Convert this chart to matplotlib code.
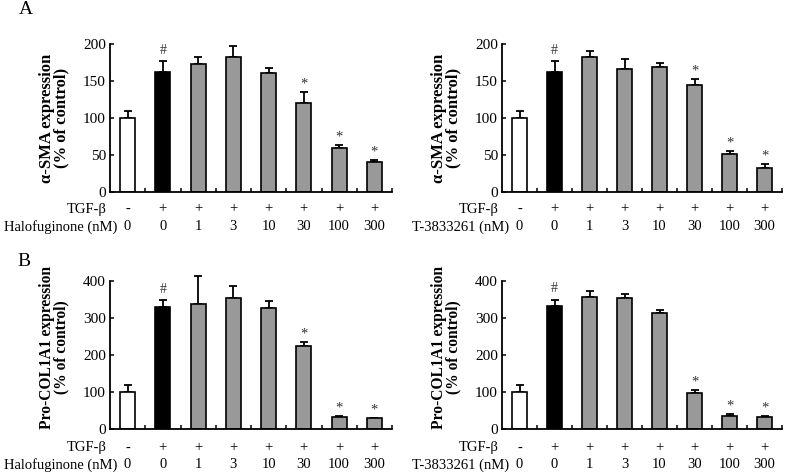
import matplotlib
matplotlib.use("Agg")
import matplotlib.pyplot as plt
import numpy as np

plt.rcParams['font.family'] = ['Liberation Serif', 'DejaVu Serif']

# ---- data ----
tgf_row = ['-', '+', '+', '+', '+', '+', '+', '+']
conc_labels = ['0', '0', '1', '3', '10', '30', '100', '300']

sma_halo = [100, 162, 173, 183, 161, 120, 59, 40.5]
sma_halo_err = [9, 15, 10, 14, 6, 15, 4, 2.5]
sma_t38 = [100, 162, 183, 166, 169, 145, 51, 32]
sma_t38_err = [9, 15, 7, 14, 5, 7.5, 5, 6]

col_halo = [100, 331, 337, 355, 327, 224, 33, 29]
col_halo_err = [18, 18, 76, 31, 19, 12, 2, 1.5]
col_t38 = [100, 332, 357, 353, 314, 98, 36, 31.5]
col_t38_err = [20, 18, 15, 11, 7, 7, 3.5, 2.5]

sig_marks = ['', '#', '', '', '', '*', '*', '*']

bar_colors = ['white', 'black'] + ['#999999'] * 6

W, H = 785, 474
fig = plt.figure(figsize=(W / 100, H / 100), dpi=100)


def make_ax(left_px, right_px, top_px, bottom_px):
    return fig.add_axes([left_px / W, 1 - bottom_px / H,
                         (right_px - left_px) / W, (bottom_px - top_px) / H])


def panel(ax, vals, errs, ylim, yticks, ylabel, drug, ylab_y, row_y, ylab_fs):
    x = np.arange(len(vals))
    ax.bar(x, vals, width=0.42, color=bar_colors, edgecolor='black',
           linewidth=1.2, zorder=2)
    eb = ax.errorbar(x, vals, yerr=[np.zeros(len(errs)), errs], fmt='none',
                     ecolor='black', elinewidth=1.3, capsize=2.6,
                     capthick=1.3, zorder=1)
    for art in eb.lines[1] + eb.lines[2]:
        art.set_clip_on(False)
    for xi, v, e, m in zip(x, vals, errs, sig_marks):
        if m:
            ax.annotate(m, (xi, v + e), xytext=(0, 3 if m == '#' else 1),
                        textcoords='offset points', ha='center', va='bottom',
                        fontsize=10 if m == '#' else 10.5, color='#333333')
    ax.set_xlim(-0.5, len(vals) - 0.5)
    ax.set_ylim(*ylim)
    ax.set_yticks(yticks)
    ax.set_xticks(np.arange(len(vals)) + 0.5)
    ax.set_xticklabels([])
    ax.tick_params(axis='both', direction='in', length=3, width=1.1,
                   labelsize=11, pad=3)
    for s in ['top', 'right']:
        ax.spines[s].set_visible(False)
    for s in ['left', 'bottom']:
        ax.spines[s].set_linewidth(1.3)
    ax.set_ylabel(ylabel, fontsize=ylab_fs, fontweight='bold',
                  linespacing=0.85)
    ax.yaxis.set_label_coords(-0.145, ylab_y)
    tr = ax.get_xaxis_transform()
    for xi, t, c in zip(x, tgf_row, conc_labels):
        ax.text(xi, row_y[0], t, transform=tr, ha='center', va='center',
                fontsize=10.5)
        ax.text(xi, row_y[1], c, transform=tr, ha='center', va='center',
                fontsize=10.5)
    ax.text(-0.6, row_y[0], 'TGF-β', transform=tr, ha='right',
            va='center', fontsize=10.5)
    ax.text(-0.3, row_y[1], drug, transform=tr, ha='right',
            va='center', fontsize=10.5)


ax1 = make_ax(110, 392, 44, 192)
ax2 = make_ax(502, 782, 44, 192)
ax3 = make_ax(110, 392, 281, 429)
ax4 = make_ax(502, 782, 281, 429)

panel(ax1, sma_halo, sma_halo_err, (0, 200), range(0, 201, 50),
      'α-SMA expression\n(% of control)', 'Halofuginone (nM)', 0.5,
      (-0.115, -0.236), 12)
panel(ax2, sma_t38, sma_t38_err, (0, 200), range(0, 201, 50),
      'α-SMA expression\n(% of control)', 'T-3833261 (nM)', 0.5,
      (-0.115, -0.236), 12)
panel(ax3, col_halo, col_halo_err, (0, 400), range(0, 401, 100),
      'Pro-COL1A1 expression\n(% of control)', 'Halofuginone (nM)', 0.55,
      (-0.128, -0.243), 11.2)
panel(ax4, col_t38, col_t38_err, (0, 400), range(0, 401, 100),
      'Pro-COL1A1 expression\n(% of control)', 'T-3833261 (nM)', 0.55,
      (-0.128, -0.243), 11.2)

fig.text(26 / W, 1 - 9 / H, 'A', ha='center', va='center', fontsize=14)
fig.text(24 / W, 1 - 261 / H, 'B', ha='center', va='center', fontsize=14)

fig.savefig('out.png', dpi=100)
